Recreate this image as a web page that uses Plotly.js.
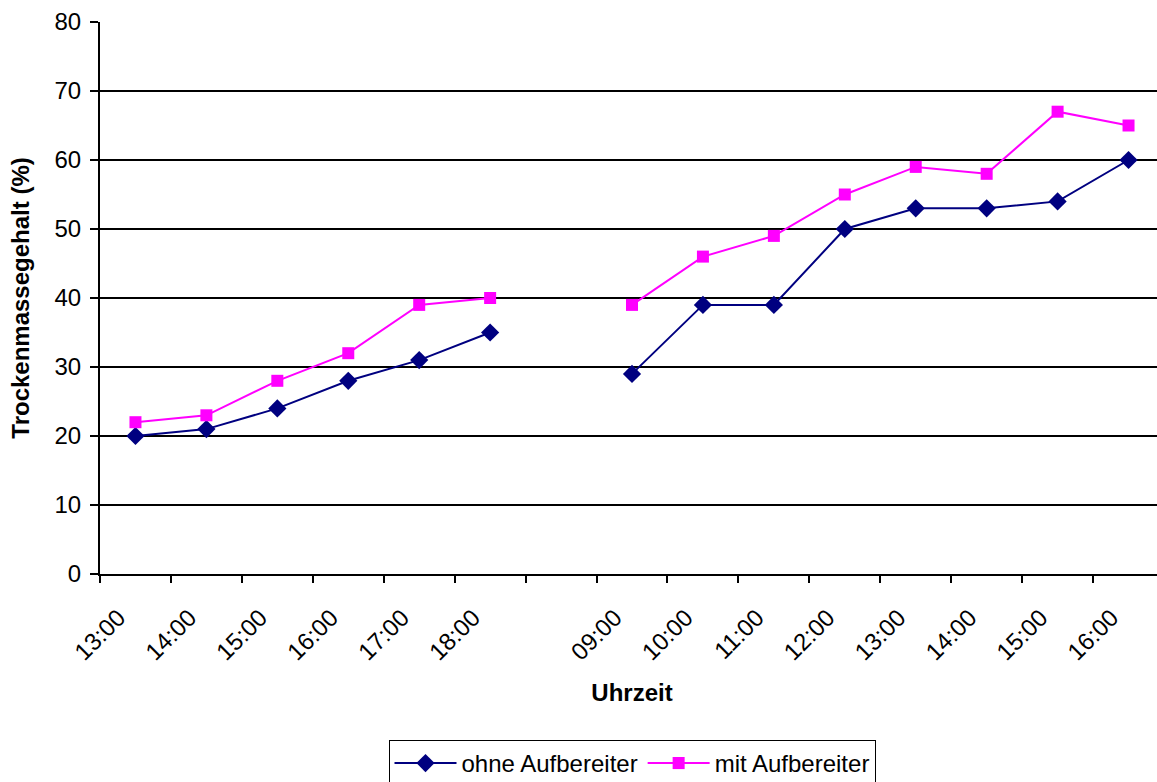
<!DOCTYPE html>
<html>
<head>
<meta charset="utf-8">
<script src="https://cdn.plot.ly/plotly-3.0.1.min.js"></script>
<style>
html, body { margin: 0; padding: 0; overflow: hidden; background: #fff; }
#chart { width: 1164px; height: 820px; }
</style>
</head>
<body>
<div id="chart"></div>
<script>
// Category labels (index 6 is an empty category separating the two days)
const timeLabels = ["13:00", "14:00", "15:00", "16:00", "17:00", "18:00", "", "09:00", "10:00", "11:00", "12:00", "13:00", "14:00", "15:00", "16:00"];
const ohneAufbereiter = [20, 21, 24, 28, 31, 35, null, 29, 39, 39, 50, 53, 53, 54, 60];
const mitAufbereiter = [22, 23, 28, 32, 39, 40, null, 39, 46, 49, 55, 59, 58, 67, 65];
const seriesNames = ["ohne Aufbereiter", "mit Aufbereiter"];
const yTicks = [0, 10, 20, 30, 40, 50, 60, 70, 80];

const idx = timeLabels.map((_, i) => i);
const boundaries = [];
for (let i = 0; i <= timeLabels.length; i++) boundaries.push(i - 0.5);

const FONT = "Liberation Sans, Arial, sans-serif";

const traces = [
  {
    x: idx, y: ohneAufbereiter, name: seriesNames[0], type: "scatter", mode: "lines+markers",
    connectgaps: false,
    line: { color: "#000080", width: 2 },
    marker: { symbol: "diamond", size: 14, color: "#000080" }
  },
  {
    x: idx, y: mitAufbereiter, name: seriesNames[1], type: "scatter", mode: "lines+markers",
    connectgaps: false,
    line: { color: "#FF00FF", width: 2 },
    marker: { symbol: "square", size: 12, color: "#FF00FF" }
  },
  // invisible trace that carries the boundary tick marks on xaxis2
  {
    x: [boundaries[0], boundaries[boundaries.length - 1]], y: [null, null], xaxis: "x2", yaxis: "y",
    showlegend: false, hoverinfo: "skip", mode: "lines"
  }
];

const layout = {
  width: 1164, height: 820,
  margin: { l: 100, r: 0, t: 22, b: 246, autoexpand: false },
  paper_bgcolor: "#fff", plot_bgcolor: "#fff",
  font: { family: FONT, size: 24, color: "#000" },
  showlegend: true,
  legend: {
    orientation: "h", x: 0.5, xanchor: "center", y: -0.3007, yanchor: "top",
    bordercolor: "#000", borderwidth: 1, font: { family: FONT, size: 24 },
    tracegroupgap: 0, itemwidth: 62
  },
  xaxis: {
    range: [-0.5, timeLabels.length - 0.5],
    tickmode: "array", tickvals: idx, ticktext: timeLabels,
    tickangle: -45, ticks: "", showgrid: false, zeroline: false,
    showline: true, linecolor: "#000", linewidth: 2,
    tickfont: { family: FONT, size: 24 },
    ticklabelshift: -17, ticklabelstandoff: 18,
    title: { text: "<b>Uhrzeit</b>", font: { family: FONT, size: 24 }, standoff: 20 }
  },
  xaxis2: {
    overlaying: "x", range: [-0.5, timeLabels.length - 0.5],
    tickmode: "array", tickvals: boundaries, ticks: "outside", ticklen: 8, tickwidth: 2, tickcolor: "#000",
    showticklabels: false, showgrid: false, zeroline: false, showline: false, side: "bottom", anchor: "y"
  },
  yaxis: {
    range: [0, 80], tickmode: "array", tickvals: yTicks,
    ticks: "outside", ticklen: 8, tickwidth: 2, tickcolor: "#000",
    showgrid: true, gridcolor: "#000", gridwidth: 2, zeroline: false,
    showline: true, linecolor: "#000", linewidth: 2,
    tickfont: { family: FONT, size: 24 },
    ticklabelstandoff: 4,
    title: { text: "<b>Trockenmassegehalt (%)</b>", font: { family: FONT, size: 24 }, standoff: 18 }
  }
};

Plotly.newPlot("chart", traces, layout, { displayModeBar: false, staticPlot: true });
</script>
</body>
</html>
